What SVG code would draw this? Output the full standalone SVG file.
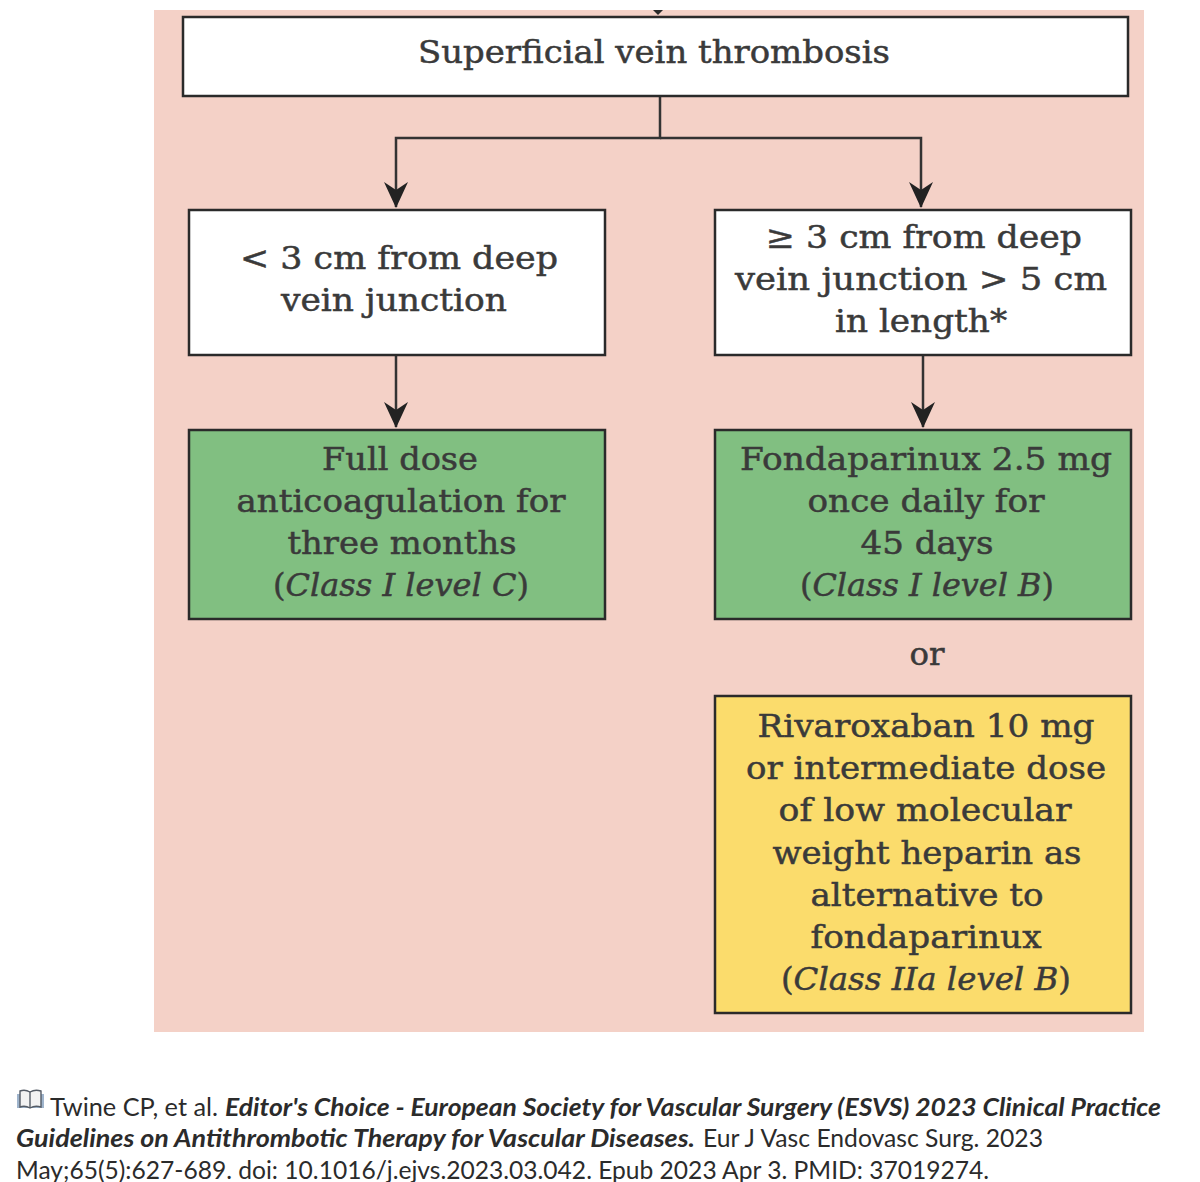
<svg xmlns="http://www.w3.org/2000/svg" width="1200" height="1182" viewBox="0 0 1200 1182">
<style>
.b{stroke:#2a2a2a;stroke-width:2.5}
.t{font-family:"DejaVu Serif","Liberation Serif",serif;font-size:32px;fill:#3a3a3a;stroke:#3a3a3a;stroke-width:.5;text-anchor:middle}
.c{font-family:Lato,"Liberation Sans",sans-serif;font-size:25px;fill:#2b2b2b}
.bi{font-weight:700;font-style:italic}
.l{fill:none;stroke:#333;stroke-width:2.5}
</style>
<defs><marker id="a" markerUnits="userSpaceOnUse" markerWidth="26" markerHeight="24" refX="25" refY="12" orient="auto" viewBox="0 0 26 24"><path d="M0 0L26 12L0 24L8 12Z" fill="#222"/></marker></defs>
<rect width="1200" height="1182" fill="#fff"/>
<rect x="154" y="10" width="990" height="1022" fill="#f4d1c7"/>
<path d="M653 10h10l-5 5z" fill="#2a2a2a"/>
<g id="connectors">
<path class="l" d="M660 96V138H396V207" marker-end="url(#a)"/>
<path class="l" d="M660 138H921V207" marker-end="url(#a)"/>
<path class="l" d="M396 355V427" marker-end="url(#a)"/>
<path class="l" d="M923 355V427" marker-end="url(#a)"/>
</g>
<g id="n1"><rect class="b" x="183" y="17" width="945" height="79" fill="#fff"/>
<text class="t" x="654" y="63" textLength="472" lengthAdjust="spacingAndGlyphs">Superficial vein thrombosis</text></g>
<g id="n2"><rect class="b" x="189" y="210" width="416" height="145" fill="#fff"/>
<text class="t" x="399" y="269" textLength="318" lengthAdjust="spacingAndGlyphs">&lt; 3 cm from deep</text>
<text class="t" x="394" y="311" textLength="226" lengthAdjust="spacingAndGlyphs">vein junction</text></g>
<g id="n3"><rect class="b" x="715" y="210" width="416" height="145" fill="#fff"/>
<text class="t" x="924" y="248" textLength="316" lengthAdjust="spacingAndGlyphs">≥ 3 cm from deep</text>
<text class="t" x="921" y="290" textLength="372" lengthAdjust="spacingAndGlyphs">vein junction &gt; 5 cm</text>
<text class="t" x="921" y="332" textLength="172" lengthAdjust="spacingAndGlyphs">in length*</text></g>
<g id="n4"><rect class="b" x="189" y="430" width="416" height="189" fill="#81bf81"/>
<text class="t" x="400" y="470" textLength="156" lengthAdjust="spacingAndGlyphs">Full dose</text>
<text class="t" x="401" y="512" textLength="329" lengthAdjust="spacingAndGlyphs">anticoagulation for</text>
<text class="t" x="402" y="554" textLength="229" lengthAdjust="spacingAndGlyphs">three months</text>
<text class="t" x="401" y="596" textLength="256" lengthAdjust="spacingAndGlyphs">(<tspan font-style="italic">Class I level C</tspan>)</text></g>
<g id="n5"><rect class="b" x="715" y="430" width="416" height="189" fill="#81bf81"/>
<text class="t" x="926" y="470" textLength="372" lengthAdjust="spacingAndGlyphs">Fondaparinux 2.5 mg</text>
<text class="t" x="926" y="512" textLength="237" lengthAdjust="spacingAndGlyphs">once daily for</text>
<text class="t" x="927" y="554" textLength="133" lengthAdjust="spacingAndGlyphs">45 days</text>
<text class="t" x="927" y="596" textLength="254" lengthAdjust="spacingAndGlyphs">(<tspan font-style="italic">Class I level B</tspan>)</text></g>
<text class="t" x="927" y="665" textLength="35" lengthAdjust="spacingAndGlyphs">or</text>
<g id="n6"><rect class="b" x="715" y="696" width="416" height="317" fill="#fbdc6c"/>
<text class="t" x="926" y="737" textLength="337" lengthAdjust="spacingAndGlyphs">Rivaroxaban 10 mg</text>
<text class="t" x="926" y="779" textLength="360" lengthAdjust="spacingAndGlyphs">or intermediate dose</text>
<text class="t" x="925" y="821" textLength="293" lengthAdjust="spacingAndGlyphs">of low molecular</text>
<text class="t" x="927" y="864" textLength="309" lengthAdjust="spacingAndGlyphs">weight heparin as</text>
<text class="t" x="927" y="906" textLength="233" lengthAdjust="spacingAndGlyphs">alternative to</text>
<text class="t" x="926" y="948" textLength="231" lengthAdjust="spacingAndGlyphs">fondaparinux</text>
<text class="t" x="926" y="990" textLength="290" lengthAdjust="spacingAndGlyphs">(<tspan font-style="italic">Class IIa level B</tspan>)</text></g>
<g id="book"><path d="M17 1108V1094h27v14z" fill="#9fb4cc"/><path d="M20 1107V1091q5-2 10 1q5-3 11-1v16q-6-2-11 1q-5-3-10-1z" fill="#f2f2f2" stroke="#555c66" stroke-width="1.4"/><path d="M30 1092v16" stroke="#555c66" stroke-width="1.4"/></g>
<text class="c" x="50" y="1116" textLength="168" lengthAdjust="spacingAndGlyphs">Twine CP, et al.</text>
<text class="c bi" x="225" y="1116" textLength="936" lengthAdjust="spacingAndGlyphs">Editor's Choice - European Society for Vascular Surgery (ESVS) 2023 Clinical Practice</text>
<text class="c bi" x="16" y="1147" textLength="679" lengthAdjust="spacingAndGlyphs">Guidelines on Antithrombotic Therapy for Vascular Diseases.</text>
<text class="c" x="703" y="1147" textLength="340" lengthAdjust="spacingAndGlyphs">Eur J Vasc Endovasc Surg. 2023</text>
<text class="c" x="16" y="1179" textLength="973" lengthAdjust="spacingAndGlyphs">May;65(5):627-689. doi: 10.1016/j.ejvs.2023.03.042. Epub 2023 Apr 3. PMID: 37019274.</text>
</svg>
